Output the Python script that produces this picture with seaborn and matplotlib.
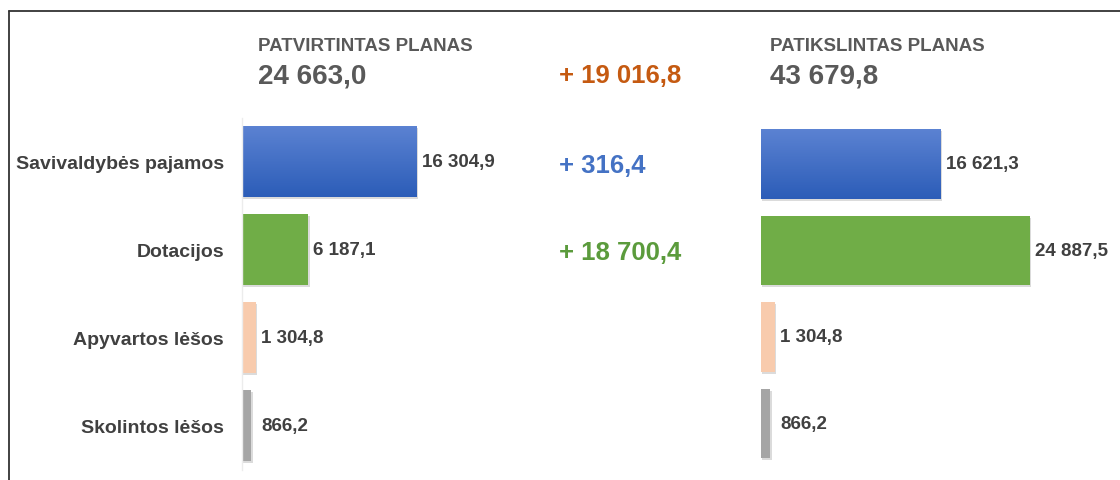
import numpy as np
import pandas as pd
import matplotlib
matplotlib.use("Agg")
import matplotlib.pyplot as plt
import matplotlib.patheffects as pe
from matplotlib.lines import Line2D
import seaborn as sns

categories = ["Savivaldybės pajamos", "Dotacijos", "Apyvartos lėšos", "Skolintos lėšos"]
approved = [16304.9, 6187.1, 1304.8, 866.2]
revised = [16621.3, 24887.5, 1304.8, 866.2]
header_left = "PATVIRTINTAS PLANAS"
header_right = "PATIKSLINTAS PLANAS"

bar_colors = ["#4a74cb", "#70ad47", "#f8cbad", "#a5a5a5"]
delta_colors = ["#c55a11", "#4472c4", "#5b9b3c"]

sns.set_theme(style="white")
plt.rcParams["font.family"] = ["Liberation Sans", "DejaVu Sans"]

W, H = 1120, 481
fig = plt.figure(figsize=(W / 100, H / 100), dpi=100)
fig.patch.set_facecolor("white")


def fmt(v):
    return f"{v:,.1f}".replace(",", " ").replace(".", ",")


def px_axes(x0, top, x1, bottom):
    return fig.add_axes([x0 / W, 1 - bottom / H, (x1 - x0) / W, (bottom - top) / H])


def draw_panel(ax, values, scale, width_px, show_labels, show_spine):
    xmax = width_px / scale
    df = pd.DataFrame({"cat": categories, "val": values})
    sns.barplot(data=df, x="val", y="cat", hue="cat", palette=bar_colors,
                order=categories, hue_order=categories, legend=False,
                orient="h", width=0.8, ax=ax, saturation=1, edgecolor="none")
    ax.set_xlim(0, xmax)
    ax.set_ylim(len(categories) - 0.5, -0.5)
    ax.set_xlabel("")
    ax.set_ylabel("")
    ax.set_xticks([])
    ax.patch.set_alpha(0)
    for s in ["top", "right", "bottom"]:
        ax.spines[s].set_visible(False)
    if show_spine:
        ax.spines["left"].set_color("#ececec")
        ax.spines["left"].set_linewidth(1.0)
    else:
        ax.spines["left"].set_visible(False)
    if show_labels:
        ax.tick_params(axis="y", length=0, pad=13)
        for t in ax.get_yticklabels():
            t.set_fontsize(14)
            t.set_fontweight("bold")
            t.set_color("#404040")
    else:
        ax.set_yticks([])
    patches = list(ax.patches)
    for i, p in enumerate(patches):
        p.set_path_effects([pe.SimplePatchShadow(offset=(1.0, -1.5), shadow_rgbFace="#888888", alpha=0.3),
                            pe.Normal()])
        if i == 0:
            x0, y0 = p.get_x(), p.get_y()
            w, h = p.get_width(), p.get_height()
            grad = np.linspace(0, 1, 64).reshape(-1, 1)
            cmap = matplotlib.colors.LinearSegmentedColormap.from_list("g", ["#5b82d2", "#2c5db8"])
            im = ax.imshow(grad, extent=[x0, x0 + w, y0 + h, y0], cmap=cmap,
                           aspect="auto", zorder=p.get_zorder() + 0.1, origin="upper")
            im.set_clip_path(p)
        end = p.get_x() + p.get_width()
        ax.text(max(end + 5 / scale, 19 / scale), p.get_y() + p.get_height() / 2,
                fmt(values[i]), va="center", ha="left", fontsize=13.5,
                fontweight="bold", color="#404040")
    ax.set_xlim(0, xmax)
    ax.set_ylim(len(categories) - 0.5, -0.5)


scale_left = 174.7 / 16304.9
scale_right = 0.0108
axL = px_axes(242, 118.5, 540, 470.5)
draw_panel(axL, approved, scale_left, 540 - 242, True, True)
axR = px_axes(761, 121.75, 1110, 467.75)
draw_panel(axR, revised, scale_right, 1110 - 761, False, False)

total_left = sum(approved)
total_right = sum(revised)
deltas = [total_right - total_left, revised[0] - approved[0], revised[1] - approved[1]]


def ftext(x, y, s, **kw):
    fig.text(x / W, 1 - y / H, s, **kw)


ftext(258, 51, header_left, fontsize=13.5, fontweight="bold", color="#595959", va="baseline")
ftext(258, 83, fmt(total_left), fontsize=20, fontweight="bold", color="#595959", va="baseline")
ftext(770, 51, header_right, fontsize=13.5, fontweight="bold", color="#595959", va="baseline")
ftext(770, 83, fmt(total_right), fontsize=20, fontweight="bold", color="#595959", va="baseline")

delta_y = [83, 173, 260]
for d, y, c in zip(deltas, delta_y, delta_colors):
    ftext(559, y, "+ " + fmt(d), fontsize=18.5, fontweight="bold", color=c, va="baseline")

fig.add_artist(Line2D([9 / W, 1], [1 - 12 / H, 1 - 12 / H], transform=fig.transFigure,
                      color="#333333", lw=1.3))
fig.add_artist(Line2D([9 / W, 9 / W], [1 - 12 / H, 0], transform=fig.transFigure,
                      color="#333333", lw=1.3))

fig.savefig("out.png", dpi=100)
